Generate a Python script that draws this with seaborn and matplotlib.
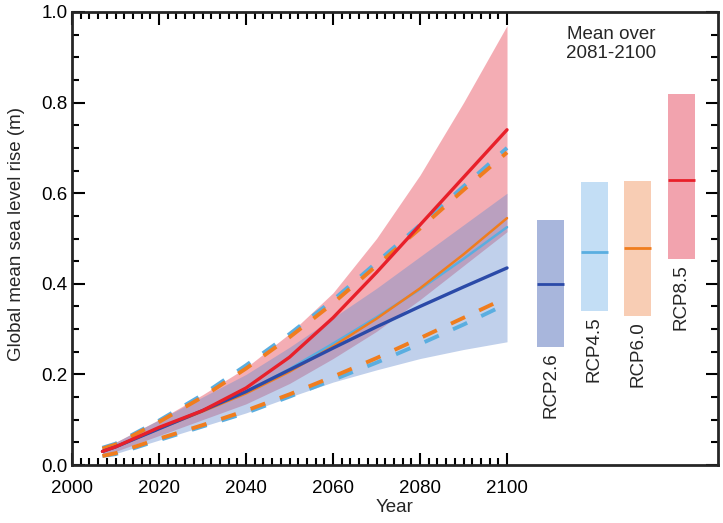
import numpy as np
import pandas as pd
import matplotlib
matplotlib.use("Agg")
import matplotlib.pyplot as plt
import seaborn as sns

# === Dati ===
years = [2007, 2010, 2020, 2030, 2040, 2050, 2060, 2070, 2080, 2090, 2100]

rcp26_mean = [0.03, 0.04, 0.08, 0.12, 0.162, 0.21, 0.258, 0.305, 0.35, 0.393, 0.435]
rcp26_lo = [0.02, 0.025, 0.055, 0.085, 0.115, 0.15, 0.183, 0.21, 0.235, 0.255, 0.272]
rcp26_hi = [0.04, 0.05, 0.10, 0.15, 0.20, 0.26, 0.325, 0.39, 0.46, 0.53, 0.60]

rcp45_mean = [0.03, 0.04, 0.08, 0.12, 0.162, 0.212, 0.268, 0.326, 0.388, 0.455, 0.525]
rcp45_lo = [0.02, 0.024, 0.055, 0.085, 0.115, 0.151, 0.188, 0.226, 0.267, 0.31, 0.356]
rcp45_hi = [0.038, 0.047, 0.098, 0.155, 0.22, 0.289, 0.364, 0.447, 0.53, 0.615, 0.70]

rcp60_mean = [0.03, 0.04, 0.08, 0.118, 0.158, 0.206, 0.262, 0.323, 0.39, 0.465, 0.545]
rcp60_lo = [0.02, 0.026, 0.058, 0.088, 0.12, 0.156, 0.195, 0.236, 0.28, 0.325, 0.37]
rcp60_hi = [0.036, 0.045, 0.095, 0.15, 0.213, 0.282, 0.357, 0.44, 0.522, 0.607, 0.69]

rcp85_mean = [0.03, 0.04, 0.083, 0.12, 0.17, 0.238, 0.325, 0.425, 0.53, 0.635, 0.74]
rcp85_lo = [0.02, 0.03, 0.065, 0.10, 0.135, 0.18, 0.235, 0.295, 0.365, 0.44, 0.515]
rcp85_hi = [0.04, 0.05, 0.10, 0.155, 0.215, 0.29, 0.38, 0.50, 0.64, 0.80, 0.97]

# media 2081-2100
scenari = ["RCP2.6", "RCP4.5", "RCP6.0", "RCP8.5"]
media_2081_2100 = [0.40, 0.47, 0.48, 0.63]
min_2081_2100 = [0.26, 0.34, 0.33, 0.455]
max_2081_2100 = [0.54, 0.625, 0.628, 0.82]

# === Colori ===
c26 = "#2b4aa8"
c45 = "#5aaee0"
c60 = "#f07d1e"
c85 = "#e8202a"
bar_colors = ["#a8b6dc", "#c3def5", "#f8cdb4", "#f2a3ae"]

sns.set_theme(style="ticks")
plt.rcParams["font.family"] = ["Liberation Sans", "DejaVu Sans"]
plt.rcParams["axes.linewidth"] = 2.0

fig = plt.figure(figsize=(7.23, 5.23), dpi=100)
ax = fig.add_axes([72 / 723, 1 - 465 / 523, 646 / 723, 453 / 523])

# bande di incertezza
ax.fill_between(years, rcp85_lo, rcp85_hi, color="#e84a5a", alpha=0.45, lw=0)
ax.fill_between(years, rcp26_lo, rcp26_hi, color="#6a8fd0", alpha=0.42, lw=0)

# linee tratteggiate (intervalli RCP4.5 / RCP6.0)
dash = (0, (4.0, 4.0))
for serie in [rcp45_hi, rcp45_lo]:
    sns.lineplot(x=years, y=serie, color=c45, lw=2.8, linestyle=dash, ax=ax)
for serie in [rcp60_hi, rcp60_lo]:
    sns.lineplot(x=years, y=serie, color=c60, lw=2.8, linestyle=dash, ax=ax)

# medie
df = pd.DataFrame({"Year": years, "RCP4.5": rcp45_mean, "RCP6.0": rcp60_mean,
                   "RCP2.6": rcp26_mean, "RCP8.5": rcp85_mean})
sns.lineplot(data=df, x="Year", y="RCP4.5", color=c45, lw=1.8, ax=ax)
sns.lineplot(data=df, x="Year", y="RCP6.0", color=c60, lw=1.8, ax=ax)
sns.lineplot(data=df, x="Year", y="RCP2.6", color=c26, lw=2.4, ax=ax)
sns.lineplot(data=df, x="Year", y="RCP8.5", color=c85, lw=2.4, ax=ax)

# barre media 2081-2100
bar_x = [2110 + 10 * i for i in range(len(scenari))]
line_colors = [c26, c45, c60, c85]
w = 6.2
for x, lo, hi, m, bc, lc, name in zip(bar_x, min_2081_2100, max_2081_2100,
                                     media_2081_2100, bar_colors, line_colors, scenari):
    ax.bar(x, hi - lo, bottom=lo, width=w, color=bc, lw=0)
    ax.hlines(m, x - w / 2, x + w / 2, color=lc, lw=2)
    ax.text(x, lo - 0.012, name, rotation=90, ha="center", va="top", fontsize=13.5)

ax.text(2124, 0.93, "Mean over\n2081-2100", ha="center", va="center",
        fontsize=13.5, linespacing=1.15)

# assi
ax.set_xlim(2000, 2148.5)
ax.set_ylim(0, 1.0)
ax.set_xticks(range(2000, 2101, 20))
ax.set_xticks(range(2000, 2101, 2), minor=True)
ax.set_yticks(np.arange(0, 1.01, 0.2))
ax.set_yticks(np.arange(0, 1.01, 0.05), minor=True)
ax.set_yticklabels([f"{v:.1f}" for v in np.arange(0, 1.01, 0.2)])
ax.tick_params(which="both", direction="in", top=True, right=True, width=1.5,
               labelsize=13.5, colors="black")
ax.tick_params(which="major", length=9)
ax.tick_params(which="minor", length=5)
ax.tick_params(axis="x", pad=11)
ax.tick_params(axis="y", pad=3)

ax.set_xlabel("Year", fontsize=13.5)
ax.set_ylabel("Global mean sea level rise (m)", fontsize=13.5)
ax.xaxis.set_label_coords(0.5, -0.075)
ax.yaxis.set_label_coords(-0.073, 0.51)

fig.savefig("out.png", dpi=100)
